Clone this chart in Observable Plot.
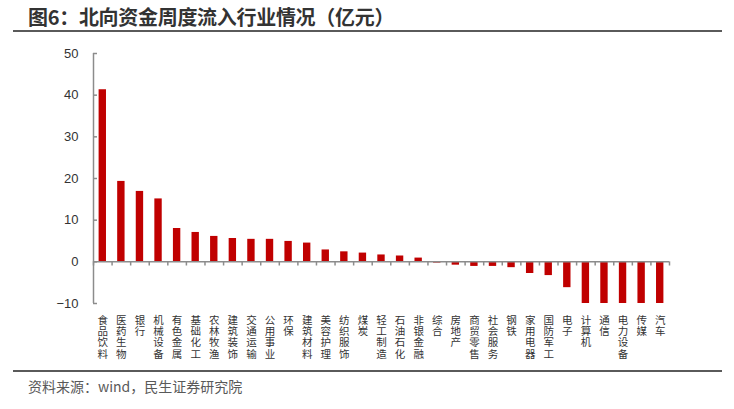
<!DOCTYPE html>
<html>
<head>
<meta charset="utf-8">
<script src="https://cdn.jsdelivr.net/npm/d3@7"></script>
<script src="https://cdn.jsdelivr.net/npm/@observablehq/plot@0.6"></script>
<style>
  html, body { margin: 0; padding: 0; background: #fff; }
  #wrap { width: 734px; height: 409px; position: relative; overflow: hidden; }
  .title {
    margin: 0 12px 0 13px; height: 30px; border-bottom: 2px solid #5a5a5a;
    font-family: "Noto Sans CJK SC", sans-serif; font-weight: bold; font-size: 20px;
    color: #333; line-height: 34px; padding-left: 15px; box-sizing: content-box;
    letter-spacing: -0.3px;
  }
  .foot {
    margin: 0 12px 0 13px; border-top: 2px solid #5a5a5a;
    font-family: "Noto Sans CJK SC", sans-serif; font-size: 14px; color: #595959;
    padding-left: 15px; line-height: 28px;
  }
  svg { display: block; }
</style>
</head>
<body>
<div id="wrap">
  <div class="title">图6：北向资金周度流入行业情况（亿元）</div>
  <div id="chart"></div>
  <div class="foot">资料来源：wind，民生证券研究院</div>
</div>
<script>
const categories = ["食品饮料","医药生物","银行","机械设备","有色金属","基础化工","农林牧渔","建筑装饰","交通运输","公用事业","环保","建筑材料","美容护理","纺织服饰","煤炭","轻工制造","石油石化","非银金融","综合","房地产","商贸零售","社会服务","钢铁","家用电器","国防军工","电子","计算机","通信","电力设备","传媒","汽车"];
const values = [41.3, 19.3, 16.9, 15.1, 8.0, 7.05, 6.1, 5.6, 5.4, 5.4, 4.9, 4.5, 2.85, 2.4, 2.1, 1.65, 1.4, 0.9, -0.3, -0.8, -1.1, -1.1, -1.4, -2.8, -3.3, -6.2, -10, -10, -10, -10, -10];
const yTicks = [-10, 0, 10, 20, 30, 40, 50];

const data = categories.map((name, i) => ({i, name, value: values[i]}));
const n = categories.length;
const boundaries = d3.range(n + 1);
const axisColor = "#8c8c8c";

const chart = Plot.plot({
  width: 734,
  height: 338,
  marginLeft: 93,
  marginRight: 65,
  marginTop: 21,
  marginBottom: 67,
  style: {fontFamily: "'Liberation Sans', 'Noto Sans CJK SC', sans-serif", color: "#333", background: "#fff"},
  x: {type: "linear", domain: [0, n], axis: null},
  y: {domain: [-10, 50]},
  marks: [
    Plot.axisY({ticks: yTicks, tickSize: 0, tickPadding: 15, fontSize: 13, label: null, fill: "#333"}),
    Plot.ruleY(yTicks, {y: d => d, x1: 0, x2: 0.215, stroke: axisColor, strokeWidth: 1.5}),
    Plot.ruleX([0], {y1: -10, y2: 50, stroke: axisColor, strokeWidth: 1.5}),
    Plot.rectY(data, {x1: d => d.i, x2: d => d.i + 1, y: "value", insetLeft: 5.6, insetRight: 5.6, fill: "#C00000"}),
    Plot.ruleY([0], {x1: 0, x2: n, stroke: axisColor, strokeWidth: 1.5}),
    Plot.ruleX(boundaries, {x: d => d, y1: 0, y2: -1, stroke: axisColor, strokeWidth: 1.5}),
    Plot.text(data, {x: d => d.i + 0.5, text: d => [...d.name].join("\n"), frameAnchor: "bottom", lineAnchor: "top", dy: 12.5, fontSize: 10.5, lineHeight: 1.07, fill: "#333", fontFamily: "'Noto Sans CJK SC', sans-serif"})
  ]
});
document.getElementById("chart").appendChild(chart);
</script>
</body>
</html>
